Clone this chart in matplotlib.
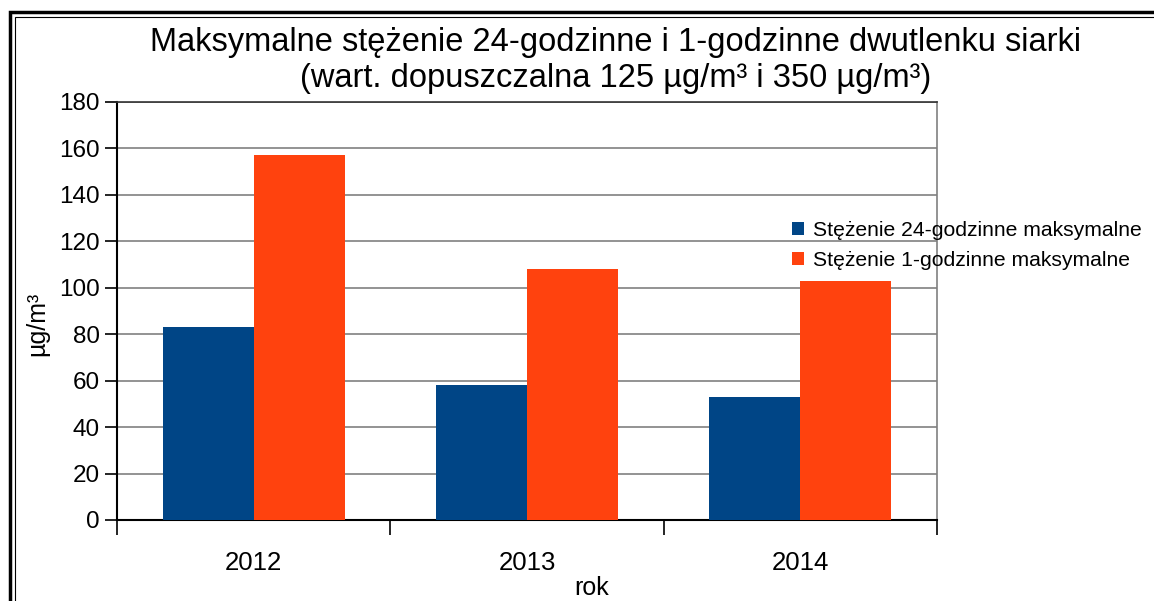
import numpy as np
import matplotlib
matplotlib.use("Agg")
from matplotlib import pyplot as plt
from matplotlib.patches import Rectangle

years = ['2012', '2013', '2014']
max_24h = [83, 58, 53]
max_1h = [157, 108, 103]
series_names = ['Stężenie 24-godzinne maksymalne', 'Stężenie 1-godzinne maksymalne']
yticks = [0, 20, 40, 60, 80, 100, 120, 140, 160, 180]

plt.rcParams['font.family'] = ['Liberation Sans', 'DejaVu Sans']

W, H = 1154, 601
fig = plt.figure(figsize=(W / 100, H / 100), dpi=100)
ax = fig.add_axes([117 / W, 1 - 520 / H, (937 - 117) / W, (520 - 102) / H])

x = np.arange(len(years))
w = 1 / 3
b1 = ax.bar(x - w / 2, max_24h, w, color='#004586', zorder=3)
b2 = ax.bar(x + w / 2, max_1h, w, color='#ff420e', zorder=3)

ax.set_xlim(-0.5, 2.5)
ax.set_ylim(0, 180)
ax.set_yticks(yticks)
ax.yaxis.grid(True, color='#808080', linewidth=1.2, zorder=0)
ax.tick_params(axis='y', labelsize=17.5, length=8.5, width=1.2, pad=4)
ax.set_xticks(x)
ax.set_xticklabels(years)
ax.set_xticks([-0.5, 0.5, 1.5, 2.5], minor=True)
ax.tick_params(axis='x', which='major', length=0, labelsize=18.5, pad=22)
ax.tick_params(axis='x', which='minor', length=11, width=1.2)
for s in ['left', 'bottom']:
    ax.spines[s].set_linewidth(1.5)
    ax.spines[s].set_color('black')
ax.spines['top'].set_color('#333333')
ax.spines['top'].set_linewidth(1.2)
ax.spines['right'].set_color('#808080')
ax.spines['right'].set_linewidth(1.2)

fig.text(37 / W, 1 - 324 / H, 'µg/m³', rotation=90, ha='center', va='center', fontsize=18)
fig.text(592 / W, 1 - 588 / H, 'rok', ha='center', va='center', fontsize=18)

fig.text(616 / W, 1 - 42 / H, 'Maksymalne stężenie 24-godzinne i 1-godzinne dwutlenku siarki',
         ha='center', va='center', fontsize=23.5)
fig.text(616 / W, 1 - 78 / H, '(wart. dopuszczalna 125 µg/m³ i 350 µg/m³)',
         ha='center', va='center', fontsize=23.5)

fig.legend([b1, b2], series_names, loc='upper left', bbox_to_anchor=(792 / W, 1 - 221 / H),
           frameon=False, fontsize=15.2, handlelength=0.58, handleheight=0.58,
           handletextpad=0.4, labelspacing=0.5, borderpad=0, borderaxespad=0)

# outer double border (cut off at right and bottom)
fig.patches.append(Rectangle((10 / W, -0.1), 1.2, 1 - 12 / H + 0.1, transform=fig.transFigure,
                             fill=False, edgecolor='black', linewidth=2.5))
fig.patches.append(Rectangle((14.5 / W, -0.1), 1.2, 1 - 16.5 / H + 0.1, transform=fig.transFigure,
                             fill=False, edgecolor='black', linewidth=0.8))

fig.savefig('out.png', dpi=100)
